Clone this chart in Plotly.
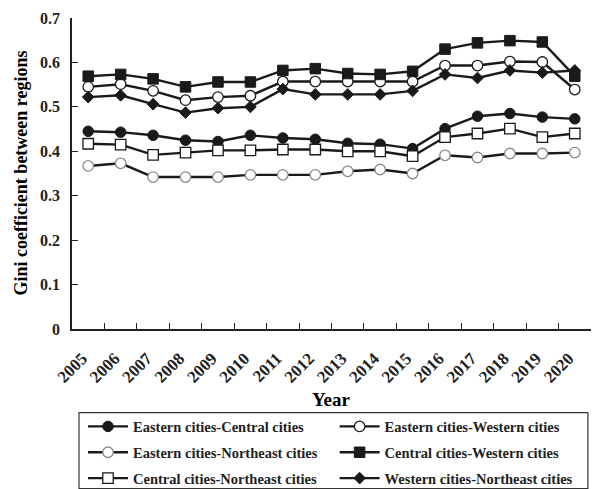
import plotly.graph_objects as go

years = [str(y) for y in range(2005, 2021)]

eastern_central = [0.445, 0.443, 0.436, 0.425, 0.422, 0.436, 0.430, 0.427,
                   0.418, 0.416, 0.406, 0.451, 0.479, 0.485, 0.477, 0.473]
eastern_western = [0.545, 0.551, 0.536, 0.515, 0.522, 0.525, 0.557, 0.557,
                   0.557, 0.557, 0.557, 0.593, 0.593, 0.602, 0.601, 0.539]
eastern_northeast = [0.367, 0.373, 0.342, 0.342, 0.342, 0.347, 0.347, 0.347,
                     0.355, 0.359, 0.350, 0.391, 0.386, 0.395, 0.395, 0.397]
central_western = [0.569, 0.573, 0.563, 0.545, 0.556, 0.556, 0.582, 0.586,
                   0.575, 0.573, 0.580, 0.630, 0.644, 0.649, 0.646, 0.569]
central_northeast = [0.417, 0.415, 0.392, 0.397, 0.402, 0.402, 0.404, 0.404,
                     0.400, 0.400, 0.389, 0.432, 0.440, 0.451, 0.432, 0.440]
western_northeast = [0.522, 0.526, 0.506, 0.487, 0.497, 0.500, 0.540, 0.528,
                     0.528, 0.528, 0.536, 0.573, 0.565, 0.582, 0.577, 0.582]

y_ticks = [0, 0.1, 0.2, 0.3, 0.4, 0.5, 0.6, 0.7]
y_tick_text = ["0", "0.1", "0.2", "0.3", "0.4", "0.5", "0.6", "0.7"]

FONT = "Liberation Serif"
INK = "#1a1a1a"

# (name, values, marker, legend column)
series = [
    ("Eastern cities-Central cities", eastern_central,
     dict(symbol="circle", size=10.5, color=INK, line=dict(color=INK, width=1)), "legend"),
    ("Eastern cities-Western cities", eastern_western,
     dict(symbol="circle", size=10.5, color="white", line=dict(color=INK, width=1.3)), "legend2"),
    ("Eastern cities-Northeast cities", eastern_northeast,
     dict(symbol="circle", size=10.5, color="white", line=dict(color="#8a8a8a", width=1.3)), "legend"),
    ("Central cities-Western cities", central_western,
     dict(symbol="square", size=10.5, color=INK, line=dict(color=INK, width=1)), "legend2"),
    ("Central cities-Northeast cities", central_northeast,
     dict(symbol="square", size=10.5, color="white", line=dict(color=INK, width=1.3)), "legend"),
    ("Western cities-Northeast cities", western_northeast,
     dict(symbol="diamond", size=9, color=INK, line=dict(color=INK, width=1)), "legend2"),
]

fig = go.Figure()
for name, vals, marker, leg in series:
    fig.add_trace(go.Scatter(
        x=years, y=vals, name=name, mode="lines+markers",
        line=dict(color=INK, width=2.4),
        marker=marker, legend=leg, legendgroup=name,
    ))

# axis titles placed as annotations so they stay put regardless of tick label size
fig.add_annotation(
    text="Year", xref="paper", yref="paper", x=0.5, y=-0.228,
    xanchor="center", yanchor="middle", showarrow=False,
    font=dict(family=FONT, size=19, weight="bold", color="black"),
)
fig.add_annotation(
    text="Gini coefficient between regions", xref="paper", yref="paper",
    x=-0.1, y=0.5, xanchor="center", yanchor="middle", textangle=-90,
    showarrow=False,
    font=dict(family=FONT, size=18, weight="bold", color="black"),
)

# frame around the two legend columns
fig.add_shape(
    type="rect", xref="paper", yref="paper",
    x0=0.0135, x1=0.994, y0=-0.513, y1=-0.2686,
    line=dict(color="#333", width=1.2), fillcolor="rgba(0,0,0,0)",
)

legend_common = dict(
    orientation="v", xanchor="left", yanchor="top",
    itemwidth=40, borderwidth=0, bgcolor="rgba(0,0,0,0)",
    tracegroupgap=4,
    font=dict(family=FONT, size=14.5, weight="bold", color="#222"),
)

fig.update_layout(
    width=593, height=489,
    margin=dict(l=72, r=2, t=18, b=160, autoexpand=False),
    paper_bgcolor="white", plot_bgcolor="white",
    font=dict(family=FONT, color="black", size=14, weight="bold"),
    showlegend=True,
    legend=dict(x=0.0212, y=-0.262, **legend_common),
    legend2=dict(x=0.506, y=-0.262, **legend_common),
    xaxis=dict(
        type="category", automargin=False,
        range=[-0.5, len(years) - 0.5],
        showline=True, linecolor="#222", linewidth=1.6,
        ticks="inside", ticklen=6, tickcolor="#222", tickwidth=1.2,
        tickson="boundaries",
        tickangle=-45, ticklabelstandoff=11, ticklabelshift=-6,
        tickfont=dict(family=FONT, size=17, weight="bold", color="#222"),
        showgrid=False, zeroline=False,
    ),
    yaxis=dict(
        range=[0, 0.7], automargin=False,
        tickvals=y_ticks, ticktext=y_tick_text,
        showline=True, linecolor="#222", linewidth=1.6,
        ticks="inside", ticklen=6, tickcolor="#222", tickwidth=1.2,
        ticklabelstandoff=7,
        tickfont=dict(family=FONT, size=16, weight="bold", color="#222"),
        showgrid=False, zeroline=False,
    ),
)

fig.write_html("out.html")
